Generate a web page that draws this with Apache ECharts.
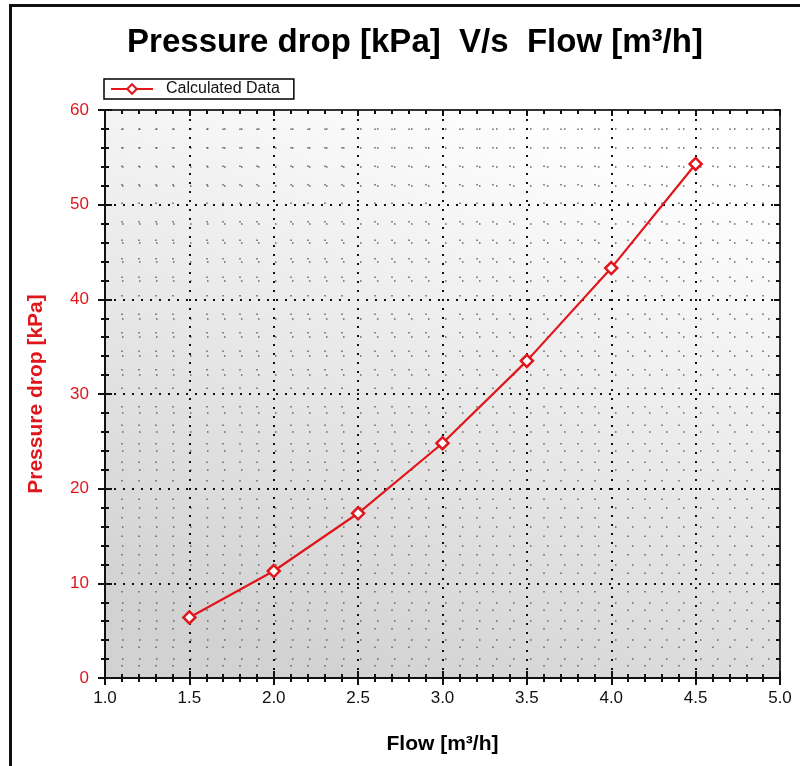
<!DOCTYPE html>
<html><head><meta charset="utf-8">
<script src="https://cdn.jsdelivr.net/npm/echarts@6/dist/echarts.min.js"></script>
<style>html,body{margin:0;padding:0;background:#fff}#c{width:800px;height:766px}</style>
</head><body><div id="c"></div>
<script>
const titleText = 'Pressure drop [kPa]  V/s  Flow [m³/h]';
const seriesName = 'Calculated Data';
const xName = 'Flow [m³/h]';
const yName = 'Pressure drop [kPa]';
const flow = [1.5, 2.0, 2.5, 3.0, 3.5, 4.0, 4.5];
const pressureDrop = [6.4, 11.3, 17.4, 24.8, 33.5, 43.3, 54.3];

const chart = echarts.init(document.getElementById('c'));
const F = 'Liberation Sans, Arial, sans-serif';
const red = '#e0161b';
function xa(extra){
  return Object.assign({
    type:'value', min:1, max:5, interval:0.5, gridIndex:0,
    axisLine:{show:true, onZero:false, lineStyle:{color:'#111', width:2}},
    axisTick:{show:true, length:7, lineStyle:{color:'#111', width:2}},
    minorTick:{show:true, splitNumber:5, length:4, lineStyle:{color:'#111', width:2}},
    axisLabel:{show:false},
    splitLine:{show:false}, minorSplitLine:{show:false}
  }, extra);
}
function ya(extra){
  return Object.assign({
    type:'value', min:0, max:60, interval:10, gridIndex:0,
    axisLine:{show:true, onZero:false, lineStyle:{color:'#111', width:2}},
    axisTick:{show:true, length:7, lineStyle:{color:'#111', width:2}},
    minorTick:{show:true, splitNumber:5, length:4, lineStyle:{color:'#111', width:2}},
    axisLabel:{show:false},
    splitLine:{show:false}, minorSplitLine:{show:false}
  }, extra);
}
chart.setOption({
  backgroundColor:'#fff',
  animation:false,
  title:{text:titleText, left:410, textAlign:'center', top:21,
    textStyle:{fontFamily:F, fontSize:33, fontWeight:'bold', color:'#000'}},
  legend:{left:104, top:79, padding:[2,14,2,6], itemGap:0, itemWidth:42, itemHeight:12,
    backgroundColor:'#fff', borderColor:'#000', borderWidth:1.5, borderRadius:0,
    textStyle:{fontFamily:F, fontSize:16, color:'#111', padding:[0,0,0,8]},
    data:[seriesName]},
  graphic:[{type:'rect', left:8, top:3, shape:{width:900, height:900},
    style:{fill:null, stroke:'#111', lineWidth:3}, z:-1, silent:true}],
  grid:{left:105, right:20, top:110, bottom:88, show:true, borderWidth:0,
    backgroundColor:{type:'linear', x:0.65, y:0, x2:0.35, y2:1,
      colorStops:[{offset:0, color:'#ffffff'},{offset:1, color:'#d2d2d2'}]}},
  xAxis:[
    xa({position:'bottom', axisTick:{show:true, inside:false, length:7, lineStyle:{color:'#111', width:2}},
      minorTick:{show:true, splitNumber:5, length:4, lineStyle:{color:'#111', width:2}},
      axisLabel:{show:true, color:'#111', fontFamily:F, fontSize:17, margin:12, formatter:v=>v.toFixed(1)},
      name:xName, nameLocation:'middle', nameGap:56,
      nameTextStyle:{fontFamily:F, fontSize:21, fontWeight:'bold', color:'#000'},
      splitLine:{show:true, lineStyle:{color:'#111', width:2, type:[2,7]}},
      minorSplitLine:{show:true, lineStyle:{color:'#666', width:1.5, type:[1.5,17]}}}),
    xa({position:'bottom', axisTick:{show:true, inside:true, length:7, lineStyle:{color:'#111', width:2}},
      minorTick:{show:true, splitNumber:5, length:4, lineStyle:{color:'#111', width:2}}}),
    xa({position:'top', axisLine:{show:true, onZero:false, lineStyle:{color:'#333', width:2}},
      axisTick:{show:true, inside:true, length:6, lineStyle:{color:'#111', width:2}},
      minorTick:{show:true, splitNumber:5, length:4, lineStyle:{color:'#111', width:2}}})
  ],
  yAxis:[
    ya({position:'left', axisTick:{show:true, inside:false, length:7, lineStyle:{color:'#111', width:2}},
      axisLabel:{show:true, color:red, fontFamily:F, fontSize:17, margin:16},
      name:yName, nameLocation:'middle', nameGap:58,
      nameTextStyle:{fontFamily:F, fontSize:21, fontWeight:'bold', color:red},
      splitLine:{show:true, lineStyle:{color:'#111', width:2, type:[2,7]}},
      minorSplitLine:{show:true, lineStyle:{color:'#666', width:1.5, type:[1.5,15.5]}}}),
    ya({position:'left', axisTick:{show:true, inside:true, length:7, lineStyle:{color:'#111', width:2}}}),
    ya({position:'right', axisLine:{show:true, onZero:false, lineStyle:{color:'#333', width:2}},
      axisTick:{show:true, inside:true, length:6, lineStyle:{color:'#111', width:2}},
      minorTick:{show:true, splitNumber:5, length:4, lineStyle:{color:'#111', width:2}}})
  ],
  series:[{
    name:seriesName, type:'line', xAxisIndex:0, yAxisIndex:0,
    data:flow.map((x,i)=>[x, pressureDrop[i]]),
    symbol:'diamond', symbolSize:12, showAllSymbol:true,
    lineStyle:{color:red, width:2.2},
    itemStyle:{color:'#fff', borderColor:red, borderWidth:2.5},
    z:5
  }]
});
</script></body></html>
